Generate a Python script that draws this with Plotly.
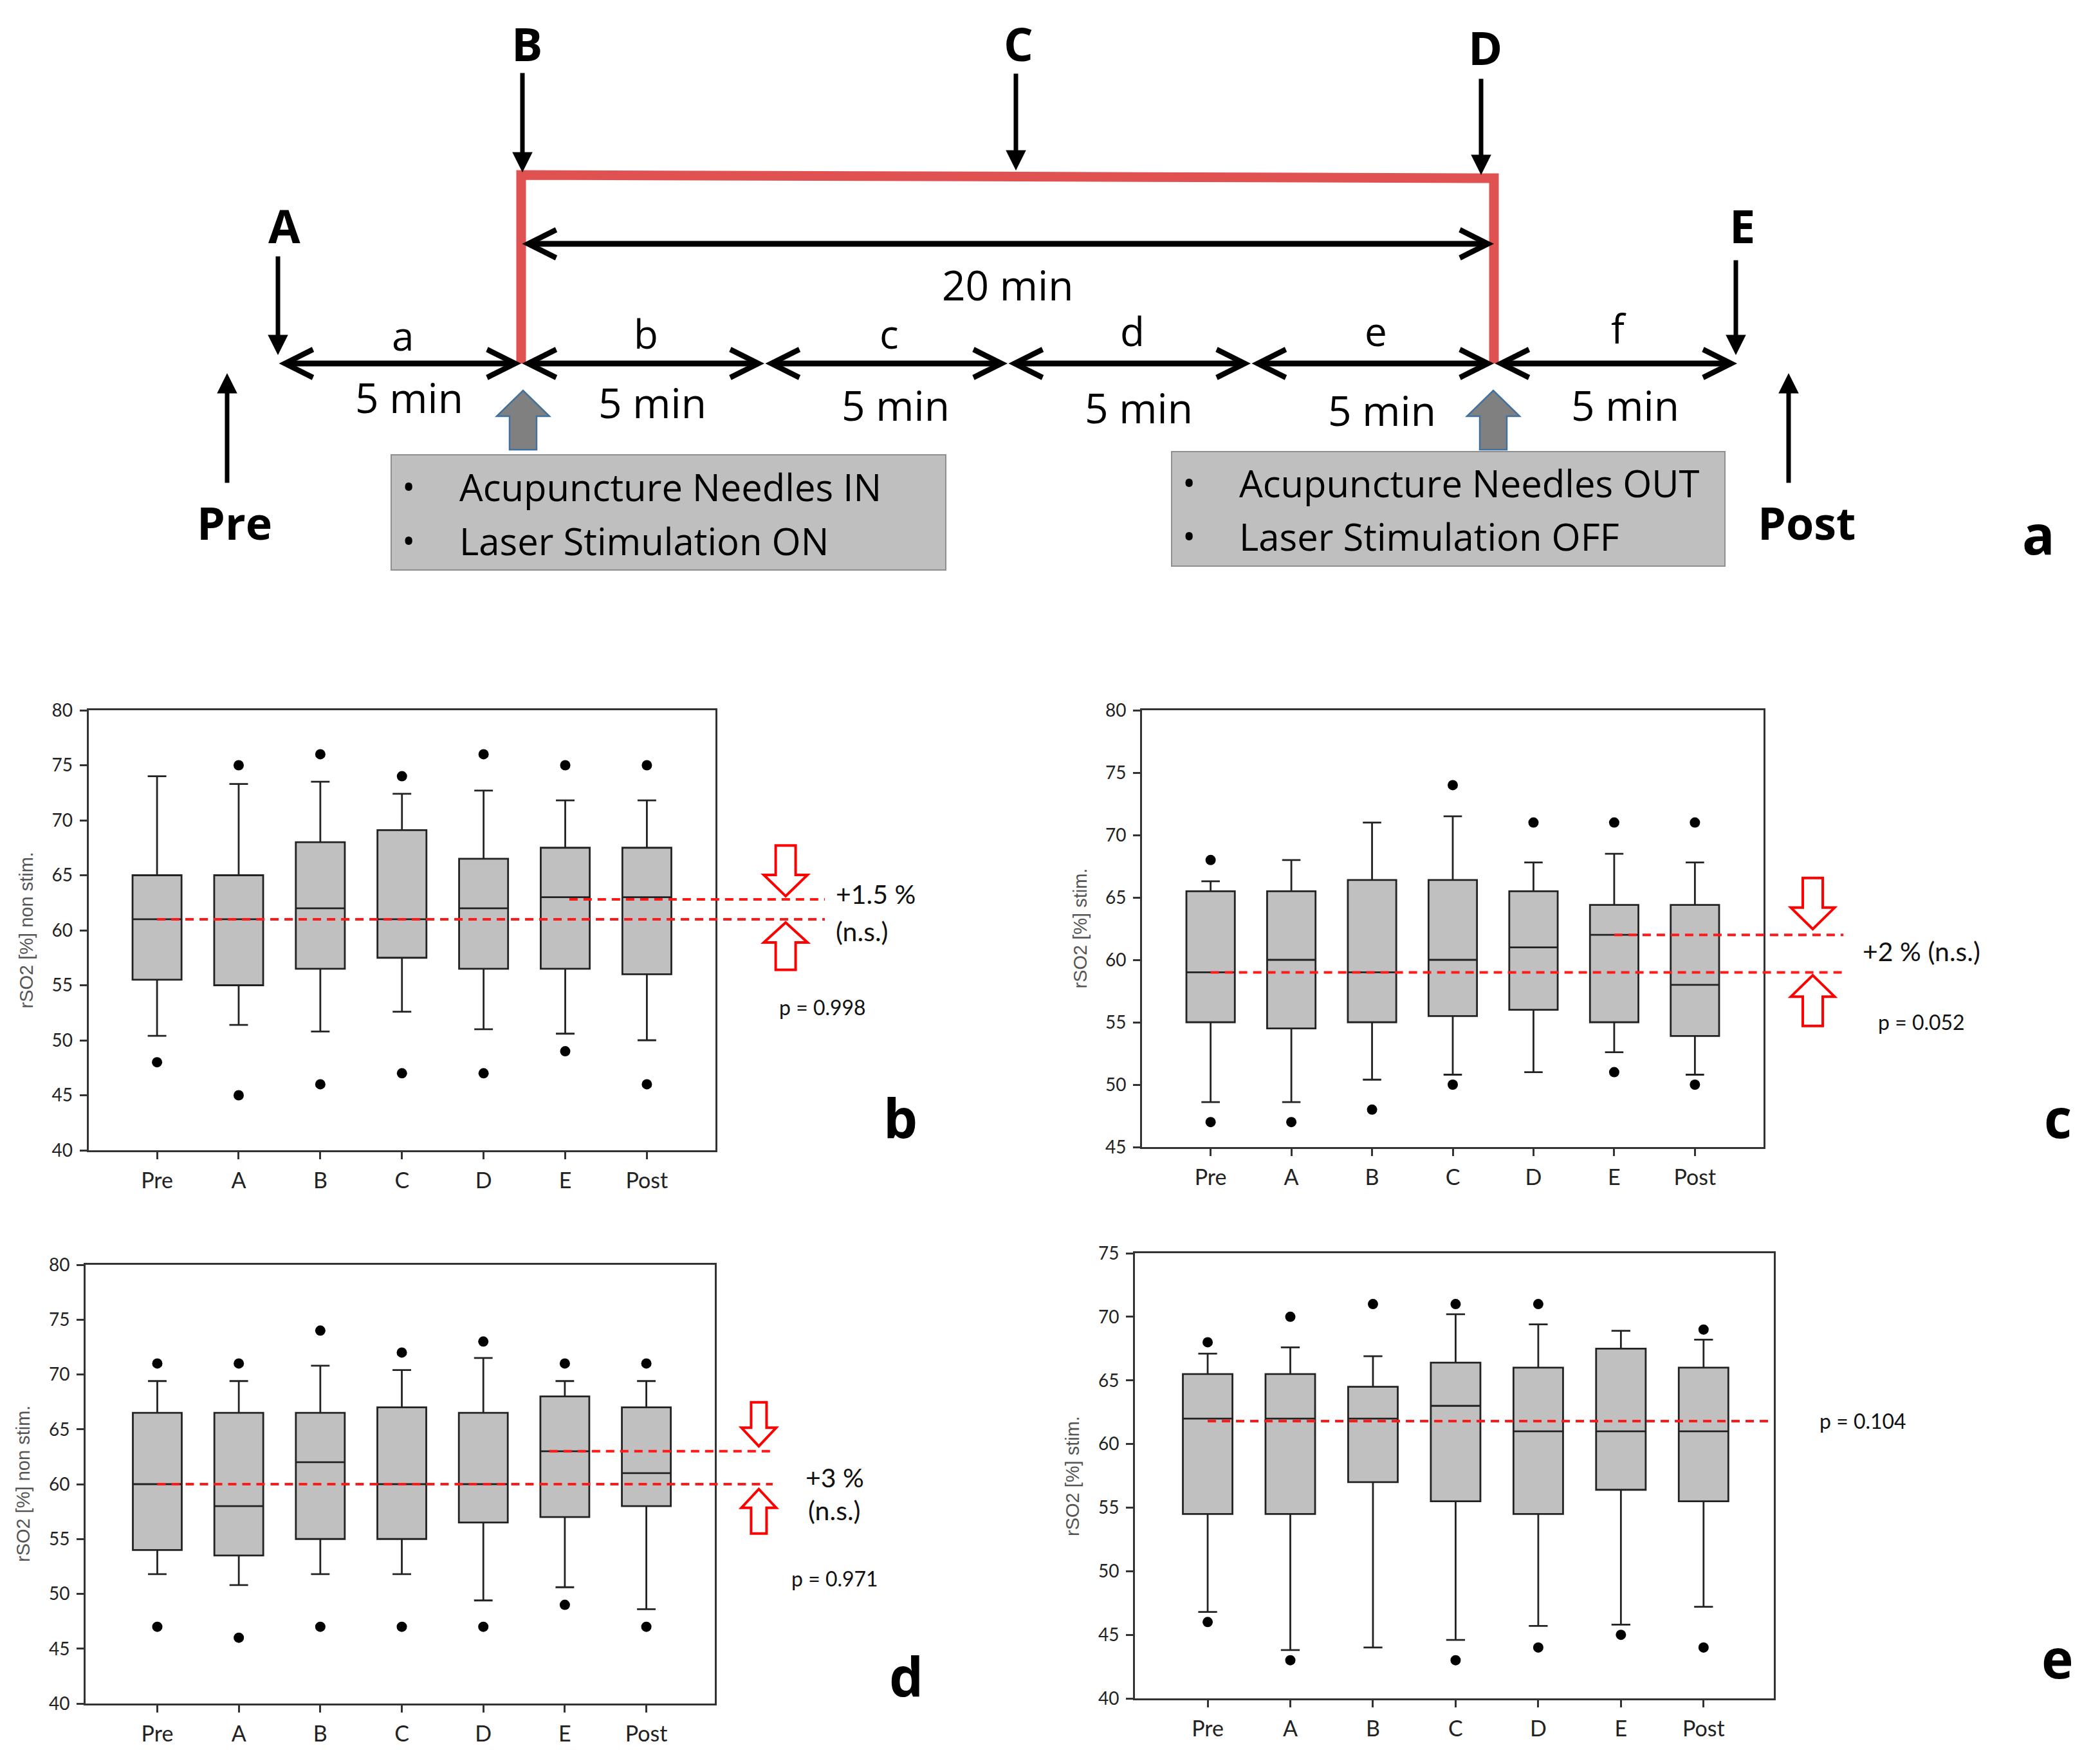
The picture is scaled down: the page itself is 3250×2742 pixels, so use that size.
import plotly.graph_objects as go

W, H = 3250, 2742
# page body margin of the html output shifts the figure; compensate in layout
OFF = 8

CATS = ["Pre", "A", "B", "C", "D", "E", "Post"]

# ---- panel b: rSO2 non stim. (top left)
b_q1 = [55.5, 55.0, 56.5, 57.5, 56.5, 56.5, 56.0]
b_med = [61.0, 61.0, 62.0, 61.0, 62.0, 63.0, 63.0]
b_q3 = [65.0, 65.0, 68.0, 69.1, 66.5, 67.5, 67.5]
b_lo = [50.4, 51.4, 50.8, 52.6, 51.0, 50.6, 50.0]
b_hi = [74.0, 73.3, 73.5, 72.4, 72.7, 71.8, 71.8]
b_out = [[48], [75, 45], [76, 46], [74, 47], [76, 47], [75, 49], [75, 46]]

# ---- panel c: rSO2 stim. (top right)
c_q1 = [55.0, 54.5, 55.0, 55.5, 56.0, 55.0, 53.9]
c_med = [59.0, 60.0, 59.0, 60.0, 61.0, 62.0, 58.0]
c_q3 = [65.5, 65.5, 66.4, 66.4, 65.5, 64.4, 64.4]
c_lo = [48.6, 48.6, 50.4, 50.8, 51.0, 52.6, 50.8]
c_hi = [66.3, 68.0, 71.0, 71.5, 67.8, 68.5, 67.8]
c_out = [[68, 47], [47], [48], [74, 50], [71], [71, 51], [71, 50]]

# ---- panel d: rSO2 non stim. (bottom left)
d_q1 = [54.0, 53.5, 55.0, 55.0, 56.5, 57.0, 58.0]
d_med = [60.0, 58.0, 62.0, 60.0, 60.0, 63.0, 61.0]
d_q3 = [66.5, 66.5, 66.5, 67.0, 66.5, 68.0, 67.0]
d_lo = [51.8, 50.8, 51.8, 51.8, 49.4, 50.6, 48.6]
d_hi = [69.4, 69.4, 70.8, 70.4, 71.5, 69.4, 69.4]
d_out = [[71, 47], [71, 46], [74, 47], [72, 47], [73, 47], [71, 49], [71, 47]]

# ---- panel e: rSO2 stim. (bottom right)
e_q1 = [54.5, 54.5, 57.0, 55.5, 54.5, 56.4, 55.5]
e_med = [62.0, 62.0, 62.0, 63.0, 61.0, 61.0, 61.0]
e_q3 = [65.5, 65.5, 64.5, 66.4, 66.0, 67.5, 66.0]
e_lo = [46.8, 43.8, 44.0, 44.6, 45.7, 45.8, 47.2]
e_hi = [67.1, 67.6, 66.9, 70.2, 69.4, 68.9, 68.2]
e_out = [[68, 46], [70, 43], [71], [71, 43], [71, 44], [45], [69, 44]]

# reference lines (value, start category index, end category index)
b_ref = [(61.0, 0, 8.18), (62.8, 5.05, 8.18)]
c_ref = [(59.0, 0, 7.84), (62.0, 5.0, 7.84)]
d_ref = [(60.0, 0, 7.55), (63.0, 4.81, 7.55)]
e_ref = [(61.8, 0, 6.85)]

# timeline (minutes) and labels
SEG_T = [0, 5, 10, 15, 20, 25, 30]
SEG_NAMES = ["a", "b", "c", "d", "e", "f"]

# ------------------------------------------------------------------
panels = {
    "b": dict(ax="", xd=(137.5, 1112), yd=(1104, 1788), yr=(40, 80), xr=(-0.84, 6.84),
              q=(b_q1, b_med, b_q3, b_lo, b_hi, b_out), title="rSO2 [%] non stim."),
    "c": dict(ax="2", xd=(1775, 2741), yd=(1104, 1783), yr=(45, 80), xr=(-0.85, 6.85),
              q=(c_q1, c_med, c_q3, c_lo, c_hi, c_out), title="rSO2 [%] stim."),
    "d": dict(ax="3", xd=(133, 1111), yd=(1966, 2648), yr=(40, 80), xr=(-0.88, 6.84),
              q=(d_q1, d_med, d_q3, d_lo, d_hi, d_out), title="rSO2 [%] non stim."),
    "e": dict(ax="4", xd=(1764, 2757), yd=(1948, 2640), yr=(40, 75), xr=(-0.88, 6.85),
              q=(e_q1, e_med, e_q3, e_lo, e_hi, e_out), title="rSO2 [%] stim."),
}


def to_px(p, xv, yv):
    x0, x1 = p["xd"]
    yt, yb = p["yd"]
    r0, r1 = p["xr"]
    y0, y1 = p["yr"]
    px = x0 + (xv - r0) / (r1 - r0) * (x1 - x0)
    py = yb - (yv - y0) / (y1 - y0) * (yb - yt)
    return px, py


def pp(px, py):
    return (px - OFF) / W, 1 - (py - OFF) / H


fig = go.Figure()
layout = dict(template="none", width=W, height=H, margin=dict(l=0, r=0, t=0, b=0, pad=0),
              paper_bgcolor="white", plot_bgcolor="white", showlegend=False)
shapes = []
annos = []

TICKFONT_Y = dict(family="Lato, Liberation Sans, sans-serif", size=28, color="#222222")
TICKFONT_X = dict(family="Lato, Liberation Sans, sans-serif", size=34, color="#222222")

for name, p in panels.items():
    a = p["ax"]
    q1, med, q3, lo, hi, out = p["q"]
    fig.add_trace(go.Box(
        x=CATS, q1=q1, median=med, q3=q3, lowerfence=lo, upperfence=hi,
        boxpoints=False, width=0.6, whiskerwidth=0.38,
        fillcolor="#c0c0c0", line=dict(color="#222222", width=2.8),
        xaxis="x" + a, yaxis="y" + a, hoverinfo="skip"))
    ox, oy = [], []
    for c, vals in zip(CATS, out):
        for v in vals:
            ox.append(c)
            oy.append(v)
    fig.add_trace(go.Scatter(x=ox, y=oy, mode="markers",
                             marker=dict(color="black", size=16, line=dict(width=0)),
                             xaxis="x" + a, yaxis="y" + a, hoverinfo="skip",
                             cliponaxis=False))
    (xa0, ya0), (xa1, ya1) = pp(p["xd"][0], p["yd"][1]), pp(p["xd"][1], p["yd"][0])
    common = dict(showline=True, mirror=True, linecolor="#333333", linewidth=3,
                  ticks="outside", ticklen=11, tickwidth=2.5, tickcolor="#333333",
                  showgrid=False, zeroline=False, automargin=False)
    layout["xaxis" + a] = dict(domain=[xa0, xa1], type="category", categoryorder="array",
                               categoryarray=CATS, range=list(p["xr"]),
                               anchor="y" + a, tickfont=TICKFONT_X,
                               ticklabelstandoff=4, **common)
    layout["yaxis" + a] = dict(domain=[ya0, ya1], range=list(p["yr"]), dtick=5,
                               anchor="x" + a, tickfont=TICKFONT_Y,
                               ticklabelstandoff=5, **common)
    # y axis title
    tx, ty = pp(p["xd"][0] - 97, (p["yd"][0] + p["yd"][1]) / 2)
    annos.append(dict(x=tx, y=ty, xref="paper", yref="paper", text=p["title"],
                      textangle=-90, showarrow=False, xanchor="center", yanchor="middle",
                      font=dict(family="Liberation Sans, Arial, sans-serif", size=29,
                                color="#555555")))


def add_ref_lines(p, refs):
    for v, s, e in refs:
        x0, y0 = pp(*to_px(p, s, v))
        x1, y1 = pp(*to_px(p, e, v))
        shapes.append(dict(type="line", xref="paper", yref="paper", x0=x0, y0=y0,
                           x1=x1, y1=y1, line=dict(color="#ff1a1a", width=4,
                                                    dash="13px,9px")))


def block_arrow(p, xc, tail_v, tip_v, hw, sw, color="#ff0000"):
    cx, ty = to_px(p, xc, tip_v)
    _, tl = to_px(p, xc, tail_v)
    base = ty + (tl - ty) * 0.42
    pts = [(cx - sw / 2, tl), (cx + sw / 2, tl), (cx + sw / 2, base), (cx + hw / 2, base),
           (cx, ty), (cx - hw / 2, base), (cx - sw / 2, base)]
    path = "M " + " L ".join("%.5f,%.5f" % pp(x, y) for x, y in pts) + " Z"
    shapes.append(dict(type="path", xref="paper", yref="paper", path=path,
                       fillcolor="white", line=dict(color=color, width=4)))


def ptext(p, xv, yv, text, size, anchor="center"):
    x, y = pp(*to_px(p, xv, yv))
    annos.append(dict(x=x, y=y, xref="paper", yref="paper", text=text, showarrow=False,
                      xanchor=anchor, yanchor="middle",
                      font=dict(family="Lato, Open Sans, sans-serif", size=size,
                                color="#111111")))


pb, pc, pd_, pe = panels["b"], panels["c"], panels["d"], panels["e"]
add_ref_lines(pb, b_ref)
add_ref_lines(pc, c_ref)
add_ref_lines(pd_, d_ref)
add_ref_lines(pe, e_ref)

block_arrow(pb, 7.70, 67.7, 63.1, 68, 31)
block_arrow(pb, 7.70, 56.4, 60.7, 68, 31)
block_arrow(pc, 7.46, 66.56, 62.46, 68, 31)
block_arrow(pc, 7.46, 54.7, 58.76, 68, 31)
block_arrow(pd_, 7.38, 67.46, 63.46, 54, 24)
block_arrow(pd_, 7.38, 55.5, 59.55, 54, 24)

ptext(pb, 8.30, 63.3, "+1.5 %", 41, "left")
ptext(pb, 8.30, 59.9, "(n.s.)", 41, "left")
ptext(pb, 8.15, 53.0, "p = 0.998", 32)
ptext(pc, 8.81, 60.7, "+2 % (n.s.)", 41)
ptext(pc, 8.81, 55.05, "p = 0.052", 32)
ptext(pd_, 8.31, 60.6, "+3 %", 41)
ptext(pd_, 8.31, 57.6, "(n.s.)", 41)
ptext(pd_, 8.31, 51.4, "p = 0.971", 32)
ptext(pe, 7.93, 61.8, "p = 0.104", 32)

# panel letters
for lab, (lx, ly) in {"a": (3168, 829), "b": (1399, 1736), "c": (3198, 1736),
                      "d": (1408, 2604), "e": (3198, 2576)}.items():
    x, y = pp(lx, ly)
    annos.append(dict(x=x, y=y, xref="paper", yref="paper", text="<b>%s</b>" % lab,
                      showarrow=False, xanchor="center", yanchor="middle",
                      font=dict(family="Open Sans, sans-serif", size=84, color="black")))

# ------------------------------------------------------------------
# timeline diagram (panel a) on its own axes, coordinates in pixels (top area)
layout["xaxis5"] = dict(domain=[0, 1], range=[OFF, W + OFF], visible=False, anchor="y5",
                        automargin=False)
layout["yaxis5"] = dict(domain=[1 - 920 / H, 1], range=[920 + OFF, OFF], visible=False,
                        anchor="x5", automargin=False)
fig.add_trace(go.Scatter(x=[OFF + 1], y=[OFF + 1], mode="markers", marker=dict(opacity=0),
                         xaxis="x5", yaxis="y5", hoverinfo="skip"))

T0, PXMIN = 432, 378 / 5.0
tpx = [T0 + t * PXMIN for t in SEG_T]
TL_Y = 565
DFONT = "Open Sans, sans-serif"


def arrow(x, y, axv, ayv, head, width, size, both=False):
    d = dict(x=x, y=y, ax=axv, ay=ayv, xref="x5", yref="y5", axref="x5", ayref="y5",
             text="", showarrow=True, arrowhead=head, arrowwidth=width,
             arrowsize=size, arrowcolor="black")
    if both:
        d.update(arrowside="end+start", startarrowhead=head, startarrowsize=size)
    annos.append(d)


def dtext(x, y, text, size, bold=False, anchor="center"):
    annos.append(dict(x=x, y=y, xref="x5", yref="y5", showarrow=False, xanchor=anchor,
                      yanchor="middle", text=("<b>%s</b>" % text) if bold else text,
                      font=dict(family=DFONT, size=size, color="black")))


# red bracket (laser stimulation period)
shapes.append(dict(type="path", xref="x5", yref="y5",
                   path="M %f,%d L %f,272 L %f,277 L %f,%d" % (tpx[1], TL_Y, tpx[1], tpx[5], tpx[5], TL_Y),
                   line=dict(color="#e05252", width=15)))

# segments
for i in range(6):
    arrow(tpx[i + 1], TL_Y, tpx[i], TL_Y, 5, 9, 0.95, both=True)
arrow(tpx[5], 379, tpx[1], 379, 5, 9, 0.95, both=True)

seg_lbl_y = [521, 518, 518, 514, 514, 510]
min_lbl_y = [617, 625, 629, 633, 637, 629]
for i, nm in enumerate(SEG_NAMES):
    mid = (tpx[i] + tpx[i + 1]) / 2
    dtext(mid + 5, seg_lbl_y[i], nm, 62)
    dtext(mid + 15, min_lbl_y[i], "5 min", 64)
dtext((tpx[1] + tpx[5]) / 2, 442, "20 min", 64)

# measurement point arrows
arrow(812, 268, 812, 112, 2, 7, 0.9)
arrow(1579, 265, 1579, 113, 2, 7, 0.9)
arrow(2302, 272, 2302, 121, 2, 7, 0.9)
arrow(432, 552, 432, 397, 2, 7, 0.9)
arrow(2698, 552, 2698, 403, 2, 7, 0.9)
arrow(353, 580, 353, 752, 2, 7, 0.9)
arrow(2780, 580, 2780, 752, 2, 7, 0.9)

for t, x, y in [("B", 819, 67), ("C", 1583, 67), ("D", 2308, 73), ("A", 442, 350),
                ("E", 2708, 350)]:
    dtext(x, y, t, 72, bold=True)
dtext(364, 812, "Pre", 70, bold=True)
dtext(2808, 812, "Post", 70, bold=True)

# grey boxes with bullets
for (x0, y0, x1, y1), lines, (bx, tx), ys in [
        ((608, 707, 1470, 886), ["Acupuncture Needles IN", "Laser Stimulation ON"], (635, 712), (756, 840)),
        ((1821, 702, 2681, 880), ["Acupuncture Needles OUT", "Laser Stimulation OFF"], (1848, 1924), (750, 833))]:
    shapes.append(dict(type="rect", xref="x5", yref="y5", x0=x0, y0=y0, x1=x1, y1=y1,
                       fillcolor="#bfbfbf", line=dict(color="#8f8f8f", width=2)))
    for txt, yy in zip(lines, ys):
        dtext(bx, yy, "•", 54)
        dtext(tx, yy, txt, 58, anchor="left")

# grey block arrows (needles in / out)
for cx in (tpx[1] + 3, tpx[5] - 1):
    pts = [(cx - 21, 699), (cx + 21, 699), (cx + 21, 647), (cx + 41, 647), (cx, 607),
           (cx - 41, 647), (cx - 21, 647)]
    shapes.append(dict(type="path", xref="x5", yref="y5",
                       path="M " + " L ".join("%f,%f" % pt for pt in pts) + " Z",
                       fillcolor="#808080", line=dict(color="#41719c", width=2.5)))

layout["shapes"] = shapes
layout["annotations"] = annos
fig.update_layout(**layout)
fig.write_html("out.html")
